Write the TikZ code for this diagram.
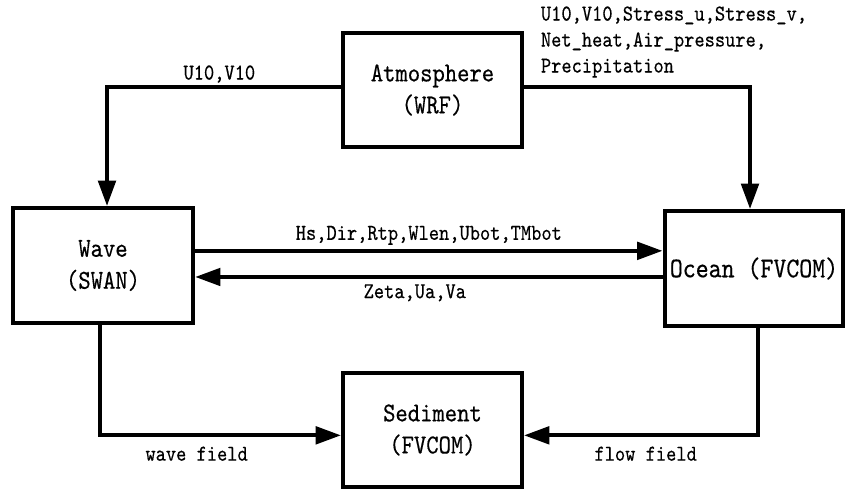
\documentclass[tikz,border=0pt]{standalone}
\usepackage{fontspec}
\setmonofont{lmmono10-regular}[Extension=.otf, FakeStretch=0.86, FakeBold=0.4]
\usetikzlibrary{arrows.meta}

\begin{document}
\begin{tikzpicture}[
    x=0.75pt, y=-0.75pt,
    model/.style={draw=black, line width=3.2pt, minimum width=134pt,
        minimum height=86pt, inner sep=1pt, align=center,
        font=\fontsize{20.5}{24}\selectfont\ttfamily},
    flow/.style={draw=black, line width=3pt, line join=miter,
        -{Triangle[length=19pt, width=13pt]}},
    var label/.style={font=\fontsize{17}{19.5}\selectfont\ttfamily,
        inner sep=2pt}
]
\path[use as bounding box] (0,0) rectangle (846,490);

% models
\node[model] (atm) at (432.5,90) {Atmosphere\\(WRF)};
\node[model, minimum width=135pt] (wave) at (103,265.5) {Wave\\(SWAN)};
\node[model, inner sep=0pt, font=\fontsize{21.5}{24}\selectfont\ttfamily]
    (ocean) at (754,268.5) {Ocean (FVCOM)};
\node[model] (sed) at (432.5,430) {Sediment\\(FVCOM)};

% atmosphere forcing
\draw[flow] ([yshift=2pt]atm.west) -| ([xshift=3pt]wave.north)
    node[var label, above, pos=0.26] (atm-wave) {U10,V10};
\draw[flow] ([yshift=2pt]atm.east) -| ([xshift=-3pt]ocean.north);
\node[var label, anchor=west, align=left] (atm-ocean) at (538,42)
    {U10,V10,Stress\_u,Stress\_v,\\Net\_heat,Air\_pressure,\\Precipitation};

% wave <-> ocean exchange
\draw[flow] ([yshift=11pt]wave.east) -- ([yshift=11pt]wave.east -| ocean.west)
    node[var label, above, midway, yshift=1pt] (wave-ocean)
    {Hs,Dir,Rtp,Wlen,Ubot,TMbot};
\draw[flow] ([yshift=-8.6pt]wave.east -| ocean.west) -- ([yshift=-8.6pt]wave.east)
    node[var label, below, pos=0.53, yshift=-2pt] (ocean-wave) {Zeta,Ua,Va};

% sediment forcing
\draw[flow] ([xshift=-2pt]wave.south) |- ([yshift=-4pt]sed.west)
    node[var label, below, pos=0.7, yshift=-5pt] (wave-sed) {wave field};
\draw[flow] ([xshift=3pt]ocean.south) |- ([yshift=-4pt]sed.east)
    node[var label, below, pos=0.74, yshift=-5pt] (ocean-sed) {flow field};

\end{tikzpicture}
\end{document}
